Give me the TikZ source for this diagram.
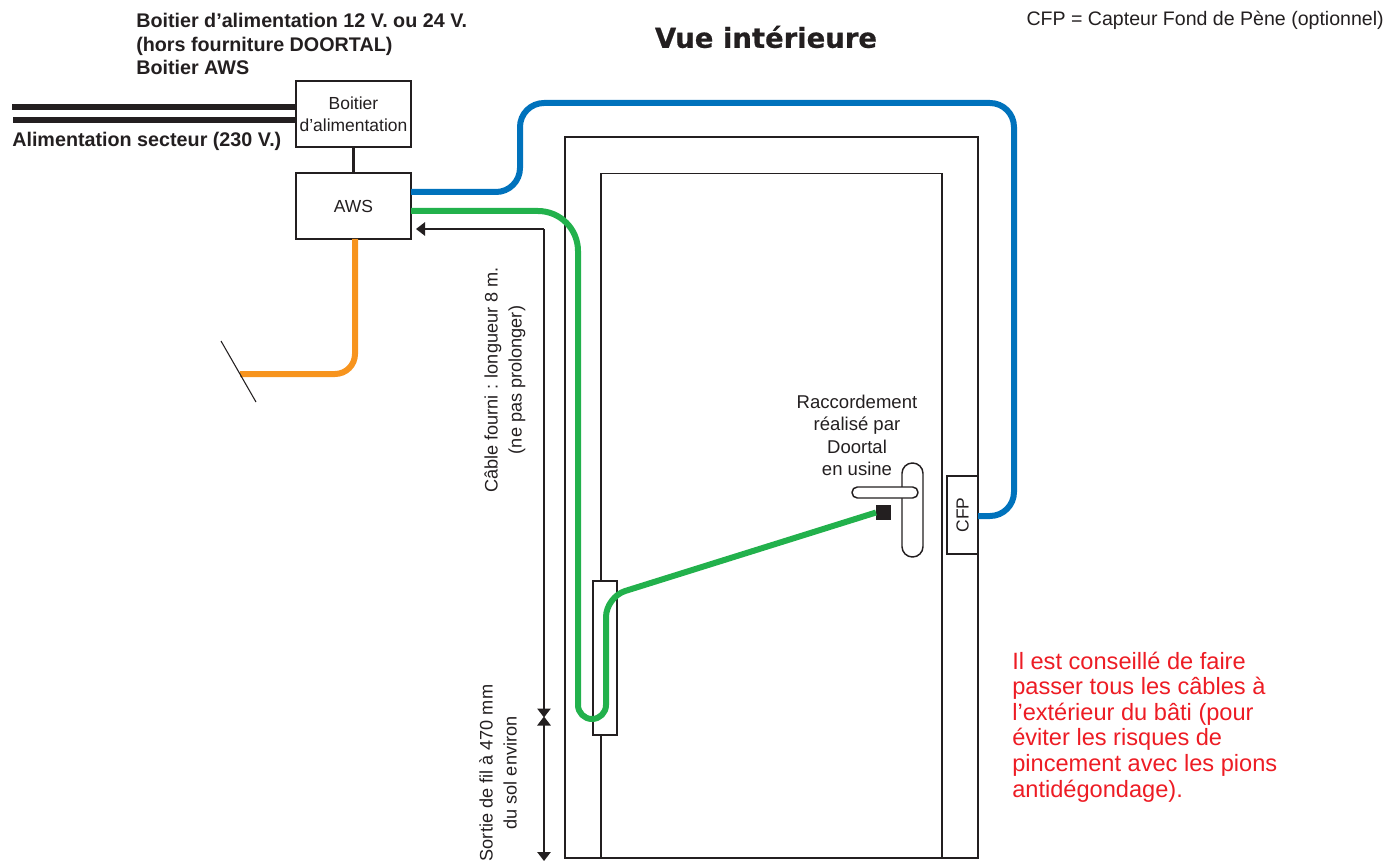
\documentclass[tikz,border=0pt]{standalone}
\usepackage{fontspec}
\setmainfont{Liberation Sans}
\newfontfamily\titlefont[BoldFont={DejaVu Sans Bold},BoldFeatures={FakeBold=0.6}]{DejaVu Sans}
\usetikzlibrary{arrows.meta}
\definecolor{ink}{RGB}{35,31,32}
\definecolor{cblue}{RGB}{0,114,188}
\definecolor{cgreen}{RGB}{34,177,76}
\definecolor{corange}{RGB}{247,148,30}
\definecolor{cred}{RGB}{237,28,36}
\newcommand{\fs}[2]{\fontsize{#1}{#2}\selectfont}
\tikzset{
  boxn/.style={draw=ink,line width=1.2pt,fill=white,inner sep=0pt,outer sep=0pt,text=ink,align=center,font=\fs{13.1}{16.7}},
  frameline/.style={draw=ink,line width=1.2pt},
  wire/.style={line width=4.5pt,line join=round},
  mains/.style={draw=ink,line width=4.5pt},
  dim/.style={draw=ink,line width=1.3pt},
  tip/.style={-{Triangle[length=6.75pt,width=10pt]}},
  lbl/.style={text=ink,inner sep=0pt,align=left},
  rot/.style={text=ink,inner sep=0pt,align=center,rotate=90,font=\fs{13.6}{18}},
}
\begin{document}
\begin{tikzpicture}[x=0.75pt,y=-0.75pt]
\useasboundingbox (0,0) rectangle (1389,863);
% door
\node[frameline,inner sep=0pt,outer sep=0pt,minimum width=309.75pt,minimum height=540.75pt] (frame) at (771.5,497.5) {};
\node[frameline,inner sep=0pt,outer sep=0pt,minimum width=255.75pt,minimum height=513.75pt] (door) at (771.5,516) {};
% boxes
\node[boxn,minimum width=86.25pt,minimum height=49.5pt] (psu) at (353.5,114) {Boitier\\d’alimentation};
\node[boxn,minimum width=86.25pt,minimum height=49.5pt] (aws) at (353.5,206) {AWS};
\draw[draw=ink,line width=1.6pt] (psu) -- (aws);
\coordinate (m1) at (12,107);
\coordinate (m2) at (13,120);
\draw[mains] (m1) -- (psu.west |- m1);
\draw[mains] (m2) -- (psu.west |- m2);
% lock plate and sensor
\node[boxn,minimum width=18pt,minimum height=115.5pt] (plate) at (605,658) {};
\node[boxn,minimum width=23.25pt,minimum height=58.5pt] (cfp) at (962.5,515) {\rotatebox{90}{CFP}};
% handle
\node[draw=ink,line width=1.1pt,fill=white,rounded corners=7.8pt,minimum width=15.75pt,minimum height=70.5pt,inner sep=0pt] (grip) at (912.5,510) {};
\node[draw=ink,line width=1.1pt,fill=white,rounded corners=4pt,minimum width=49.5pt,minimum height=8.25pt,inner sep=0pt] (lever) at (885,492.5) {};
\node[fill=ink,minimum width=11.25pt,minimum height=11.25pt,inner sep=0pt,outer sep=0pt] (sq) at (883.5,512.5) {};
% wires
\coordinate (b1) at (520,192);
\coordinate (b2) at (520,103);
\coordinate (b3) at (1014,103);
\coordinate (b4) at (1014,516);
\draw[wire,draw=cblue,rounded corners=18pt] (aws.east |- b1) -- (b1) -- (b2) -- (b3) -- (b4) -- (cfp.east |- b4);
\coordinate (g1) at (578,211);
\coordinate (g2) at (578,719);
\coordinate (g3) at (606,719);
\coordinate (g4) at (606,597);
\draw[wire,draw=cgreen] (aws.east |- g1) [rounded corners=30pt] -- (g1) [rounded corners=10.5pt] -- (g2) -- (g3) [rounded corners=15pt] -- (g4) -- (sq.west);
\coordinate (o0) at (355,239);
\coordinate (o1) at (355,374);
\coordinate (o2) at (240,374);
\draw[wire,draw=corange,rounded corners=15pt] (o0) -- (o1) -- (o2);
\coordinate (s1) at (221,341);
\coordinate (s2) at (256,402);
\draw[draw=ink,line width=0.8pt] (s1) -- (s2);
% dimensions
\coordinate (d0) at (416,229);
\coordinate (d1) at (544,229);
\coordinate (d2) at (544,717.5);
\coordinate (d2b) at (544,716.5);
\coordinate (d3) at (544,861);
\draw[dim,tip] (d1) -- (d2);
\draw[dim,tip] (d1) -- (d0);
\draw[dim,{Triangle[length=6.75pt,width=10pt]}-{Triangle[length=6.75pt,width=10pt]}] (d2b) -- (d3);
% texts
\node[lbl,anchor=north west,font=\bfseries\fs{14.8}{17.6}] (t1) at (136,13) {Boitier d’alimentation 12 V. ou 24 V.\\(hors fourniture DOORTAL)\\Boitier AWS};
\node[lbl,anchor=west,font=\bfseries\fs{14.8}{17}] (t2) at (12,141) {Alimentation secteur (230 V.)};
\node[text=ink,inner sep=0pt,font=\titlefont\bfseries\fs{20.6}{24}] (title) at (766,37) {Vue intérieure};
\node[lbl,anchor=north east,font=\fs{14.67}{17}] (t3) at (1384,11) {CFP = Capteur Fond de Pène (optionnel)};
\node[text=ink,inner sep=0pt,align=center,anchor=north,font=\fs{13.9}{16.7}] (t4) at (857,395) {Raccordement\\réalisé par\\Doortal\\en usine};
\node[rot] (t5) at (505,380) {Câble fourni : longueur 8 m.\\(ne pas prolonger)};
\node[rot] (t6) at (498,773) {Sortie de fil à 470 mm\\du sol environ};
\node[lbl,anchor=north west,text=cred,font=\fs{17.7}{19.2}] (t7) at (1012,651.5) {Il est conseillé de faire\\passer tous les câbles à\\l’extérieur du bâti (pour\\éviter les risques de\\pincement avec les pions\\antidégondage).};
\end{tikzpicture}
\end{document}
